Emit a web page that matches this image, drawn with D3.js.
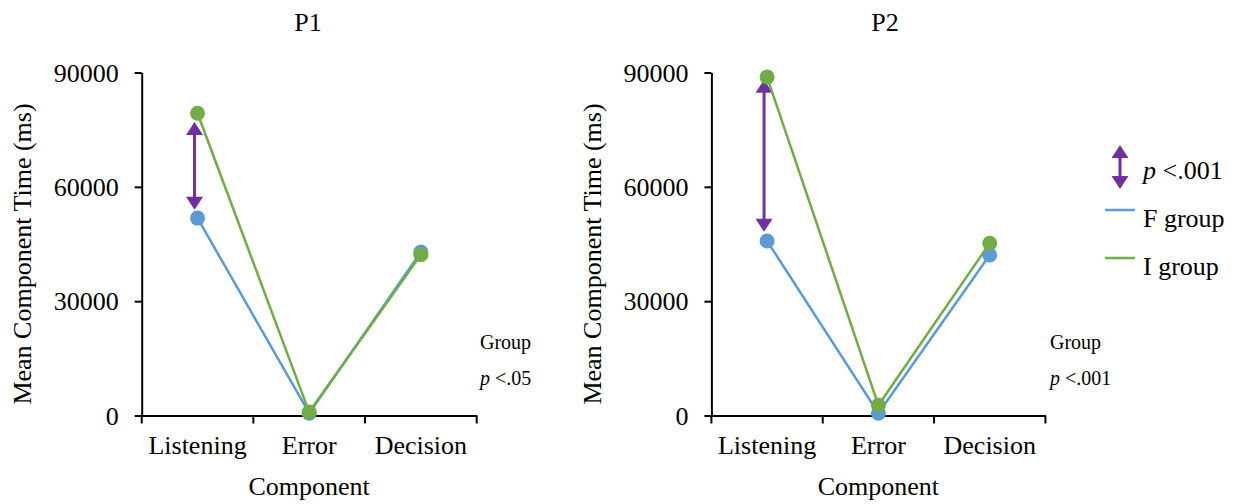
<!DOCTYPE html>
<html lang="en">
  <head>
    <meta charset="UTF-8" />
    <title>Mean Component Time - P1 vs P2</title>
    <script src="https://d3js.org/d3.v7.min.js"></script>
    <style>
      body { margin: 0; background: #fff; }
      svg text { font-family: "Liberation Serif", "Times New Roman", serif; fill: #000; }
    </style>
  </head>
  <body>
    <svg id="chart" width="1240" height="504"></svg>

    <script>
      // data
      const components = ["Listening", "Error", "Decision"];
      const yTicks = [0, 30000, 60000, 90000];
      const panels = ["P1", "P2"];
      const fGroupP1 = [51800, 600, 42900];
      const iGroupP1 = [79300, 900, 42200];
      const fGroupP2 = [45800, 600, 42100];
      const iGroupP2 = [88800, 2700, 45200];
      const arrowP1 = [54000, 77000];
      const arrowP2 = [48200, 88100];
      const groupP = ["p <.05", "p <.001"];

      const blue = "#5b9bd5",
        green = "#70ad47",
        purple = "#7030a0";

      const svg = d3.select("#chart");

      // vertical double-headed arrow, tips at yTop / yBottom (pixels)
      function doubleArrow(g, ax, yBottom, yTop) {
        const hw = 8.5, hl = 13;
        g.append("line")
          .attr("x1", ax)
          .attr("x2", ax)
          .attr("y1", yBottom - hl + 1)
          .attr("y2", yTop + hl - 1)
          .attr("stroke", purple)
          .attr("stroke-width", 3);
        g.append("path")
          .attr("d", `M${ax},${yTop} L${ax + hw},${yTop + hl} L${ax - hw},${yTop + hl} Z`)
          .attr("fill", purple);
        g.append("path")
          .attr("d", `M${ax},${yBottom} L${ax + hw},${yBottom - hl} L${ax - hw},${yBottom - hl} Z`)
          .attr("fill", purple);
      }

      const layouts = [
        { x0: 141.7, x1: 476.7, yTitle: 22, titleX: 308, groupX: 480, f: fGroupP1, i: iGroupP1, arrow: arrowP1 },
        { x0: 711.4, x1: 1045.4, yTitle: 592, titleX: 885, groupX: 1050, f: fGroupP2, i: iGroupP2, arrow: arrowP2 }
      ];

      const y = d3.scaleLinear().domain([0, 90000]).range([415.5, 72.5]);

      layouts.forEach((p, k) => {
        const g = svg.append("g");
        const x = d3.scaleBand().domain(components).range([p.x0, p.x1]);
        const cx = (c) => x(c) + x.bandwidth() / 2;

        // y axis
        const ya = g
          .append("g")
          .attr("transform", `translate(${p.x0},0)`)
          .call(d3.axisLeft(y).tickValues(yTicks).tickSize(7).tickSizeOuter(0).tickPadding(16).tickFormat(d3.format("d")));
        ya.select(".domain").attr("stroke", "#000").attr("stroke-width", 2);
        ya.selectAll(".tick line").attr("stroke", "#000").attr("stroke-width", 2);
        ya.selectAll(".tick text").attr("font-size", 26).attr("dy", "0.33em");

        // x axis, ticks at band edges
        const xa = g
          .append("g")
          .attr("transform", `translate(0,${y(0)})`)
          .call(d3.axisBottom(x).tickSize(0).tickPadding(20));
        xa.select(".domain").attr("stroke", "#000").attr("stroke-width", 2);
        xa.selectAll(".tick text").attr("font-size", 26);
        const edges = components.map((c) => x(c)).concat([x.range()[1]]);
        xa.selectAll(".edge")
          .data(edges)
          .enter()
          .append("line")
          .attr("class", "edge")
          .attr("x1", (d) => d)
          .attr("x2", (d) => d)
          .attr("y1", 0)
          .attr("y2", 8)
          .attr("stroke", "#000")
          .attr("stroke-width", 2);

        // titles
        g.append("text")
          .attr("x", p.titleX)
          .attr("y", 31)
          .attr("text-anchor", "middle")
          .attr("font-size", 26)
          .text(panels[k]);
        g.append("text")
          .attr("x", (p.x0 + p.x1) / 2)
          .attr("y", 495)
          .attr("text-anchor", "middle")
          .attr("font-size", 26)
          .text("Component");
        g.append("text")
          .attr("transform", `translate(${p.yTitle + 9},${(y(0) + y(90000)) / 2 + 10}) rotate(-90)`)
          .attr("text-anchor", "middle")
          .attr("font-size", 26)
          .text("Mean Component Time (ms)");

        // group effect note
        g.append("text").attr("x", p.groupX).attr("y", 349).attr("font-size", 20).text("Group");
        const pt = g.append("text").attr("x", p.groupX).attr("y", 385).attr("font-size", 20);
        pt.append("tspan").attr("font-style", "italic").text("p");
        pt.append("tspan").text(" " + groupP[k].slice(2));

        // arrow (significance)
        doubleArrow(g, cx(components[0]) - 3, y(p.arrow[0]), y(p.arrow[1]));

        // lines and dots
        const line = d3
          .line()
          .x((d, j) => cx(components[j]))
          .y((d) => y(d));
        [
          [p.f, blue],
          [p.i, green]
        ].forEach(([vals, col]) => {
          g.append("path")
            .datum(vals)
            .attr("d", line)
            .attr("fill", "none")
            .attr("stroke", col)
            .attr("stroke-width", 2.5);
          g.selectAll(null)
            .data(vals)
            .enter()
            .append("circle")
            .attr("cx", (d, j) => cx(components[j]))
            .attr("cy", (d) => y(d))
            .attr("r", 7.5)
            .attr("fill", col);
        });
      });

      // legend
      const lg = svg.append("g");
      doubleArrow(lg, 1120, 189, 145);
      const lt = lg.append("text").attr("x", 1143).attr("y", 179).attr("font-size", 26);
      lt.append("tspan").attr("font-style", "italic").text("p");
      lt.append("tspan").text(" <.001");
      [
        ["F group", blue, 210],
        ["I group", green, 258]
      ].forEach(([name, col, yy]) => {
        lg.append("line")
          .attr("x1", 1105)
          .attr("x2", 1135)
          .attr("y1", yy)
          .attr("y2", yy)
          .attr("stroke", col)
          .attr("stroke-width", 2.5);
        lg.append("text")
          .attr("x", 1143)
          .attr("y", yy + 17)
          .attr("font-size", 26)
          .text(name);
      });
    </script>
  </body>
</html>
